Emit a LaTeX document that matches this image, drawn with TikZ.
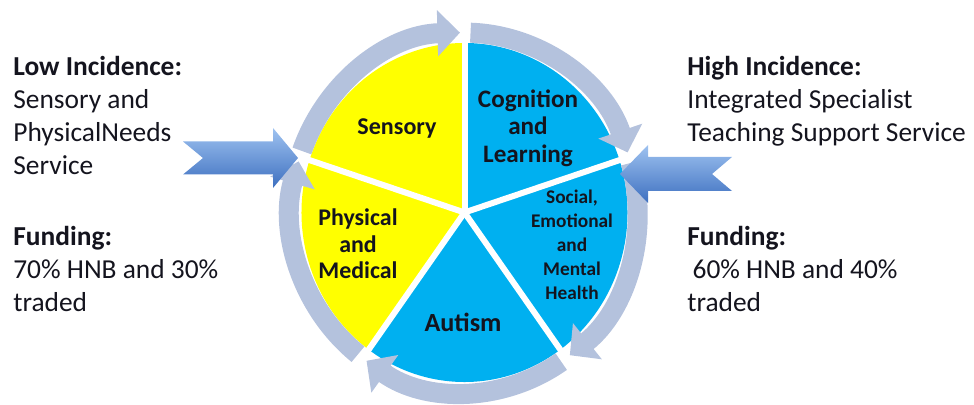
\documentclass[tikz,border=0pt]{standalone}
\usepackage{fontspec}
\setmainfont{Carlito}
\usepackage{tikz}
\usetikzlibrary{arrows.meta,positioning,calc}
\definecolor{pieyellow}{RGB}{255,255,0}
\definecolor{pieblue}{RGB}{0,176,240}
\definecolor{ringgray}{RGB}{180,194,221}
\definecolor{arrtop}{RGB}{158,194,240}
\definecolor{arrbot}{RGB}{62,112,192}
\definecolor{txtdark}{RGB}{20,20,30}

\begin{document}
\begin{tikzpicture}[x=0.02cm, y=0.02cm,
  sidetext/.style={anchor=base west, inner sep=0pt, align=left,
                   font=\fontsize{15.6}{18.9}\selectfont, text=txtdark},
  seclabel/.style n args={2}{inner sep=0pt, align=center, text=txtdark,
                   font=\bfseries\fontsize{#1}{#2}\selectfont},
  ringarr/.style={draw=ringgray, line width=0.4cm,
                  -{Triangle[width=0.9cm, length=0.45cm]}},
  spoke/.style={draw=white, line width=0.12cm},
  bigarrow/.style={top color=arrtop, bottom color=arrbot}
]
\useasboundingbox (0,0) rectangle (974,405);
\coordinate (hub) at (464.5,192.5);

\begin{scope}[shift={(hub)}, yscale=1.04]
% Pie sectors
\foreach \a/\col in {90/pieyellow,162/pieyellow,234/pieblue,306/pieblue,18/pieblue}
  \fill[\col] (0,0) -- (\a:163) arc[start angle=\a, end angle=\a+72, radius=163] -- cycle;
% Circular arrows round the pie
\foreach \s/\e in {160/91.5,232/163.5,304/235.5,376/307.5,88/19.5}
  \draw[ringarr] (\s:173) arc[start angle=\s, end angle=\e, radius=173];
% Spokes
\foreach \a in {90,162,234,306,18}
  \draw[spoke] (0,0) -- (\a:186);
\end{scope}

% Sector labels
\node[seclabel={13.7}{16}] (sensory) at (397,276) {Sensory};
\node[seclabel={14.3}{15.6}] (cognition) at (528,277) {Cognition\\and\\Learning};
\node[seclabel={13.6}{15.1}] (physical) at (358,161) {Physical\\and\\Medical};
\node[seclabel={14.9}{16}] (autism) at (463,83) {Autism};
\node[seclabel={11}{13.7}] (semh) at (572,160) {Social,\\Emotional\\and\\Mental\\Health};

% Big arrows
\shade[bigarrow] (183,263.5) -- (273,263.5) -- (273,277) -- (298,247) -- (273,217)
  -- (273,230.5) -- (183,230.5) -- (203,247) -- cycle;
\shade[bigarrow] (732,248) -- (648,248) -- (648,260) -- (620,231) -- (648,202)
  -- (648,214) -- (732,214) -- (712,231) -- cycle;

% Low incidence side (base = last line)
\node[sidetext] (lowinc) at (13,230) {\textbf{Low Incidence:}\\Sensory and\\PhysicalNeeds\\Service};
\node[sidetext] (lowfund) at (13,93) {\textbf{Funding:}\\70\% HNB and 30\%\\traded};

% High incidence side
\node[sidetext] (highinc) at (687,263) {\textbf{High Incidence:}\\Integrated Specialist\\Teaching Support Service};
\node[sidetext] (highfund) at (687,93) {\textbf{Funding:}\\\hspace*{3pt}60\% HNB and 40\%\\traded};
\end{tikzpicture}
\end{document}
